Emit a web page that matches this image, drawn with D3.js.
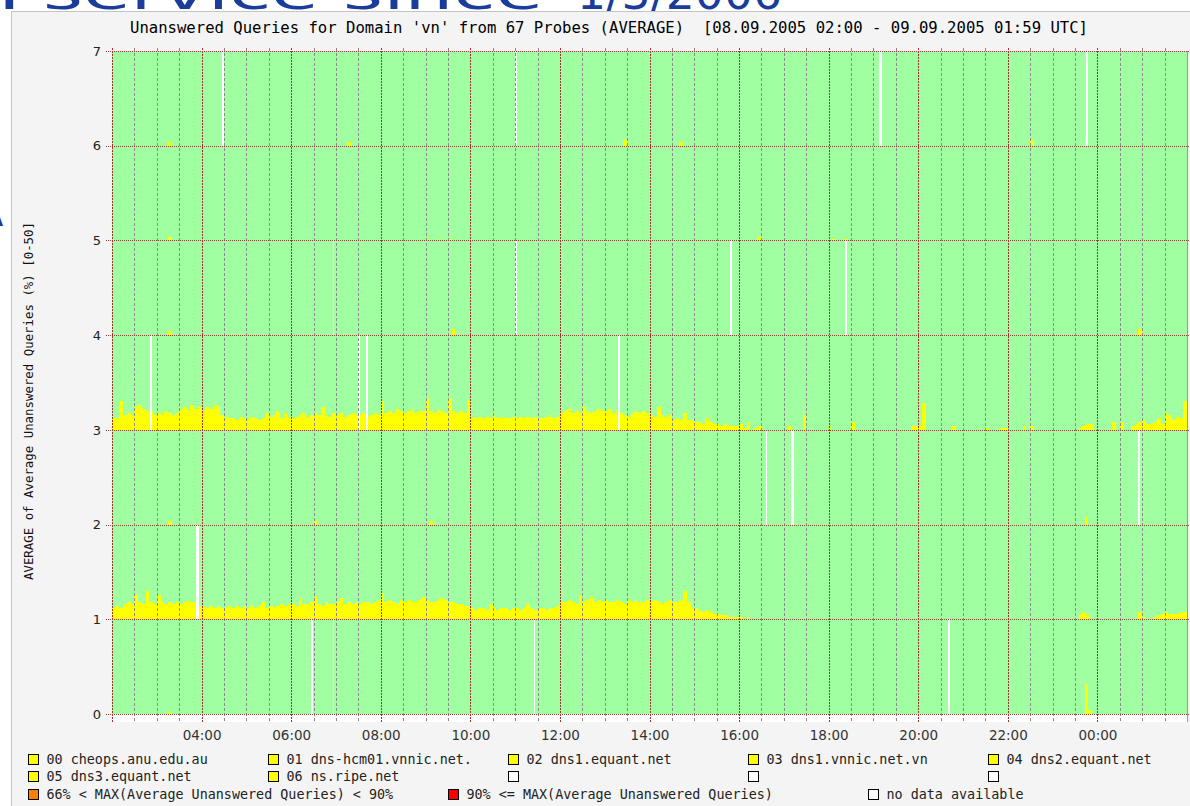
<!DOCTYPE html>
<html>
<head>
<meta charset="utf-8">
<script src="https://cdn.jsdelivr.net/npm/d3@7"></script>
<style>
  body { margin: 0; background: #fff; }
  svg { display: block; }
</style>
</head>
<body>
<script>
// probes, one band per probe (band height = 0..50 % unanswered)
const probes = ["00 cheops.anu.edu.au", "01 dns-hcm01.vnnic.net.", "02 dns1.equant.net",
                "03 dns1.vnnic.net.vn", "04 dns2.equant.net", "05 dns3.equant.net", "06 ns.ripe.net"];
const yTicks = [0, 1, 2, 3, 4, 5, 6, 7];
const xTicks = ["04:00", "06:00", "08:00", "10:00", "12:00", "14:00", "16:00", "18:00", "20:00", "22:00", "00:00"];

// % unanswered, 5 minute bins from 08.09.2005 02:00 UTC (one line = one hour)
const hcm01Pct = [
  6,7,6,8,9,8,13,9,8,15,9,8,
  13,9,8,9,8,9,8,9,10,9,9,7,
  7,6,7,6,7,6,6,7,6,7,6,7,
  6,7,6,7,9,6,7,6,7,8,7,8,
  8,7,11,8,8,9,12,8,7,9,8,8,
  9,11,8,9,8,9,8,9,9,8,9,10,
  14,9,10,9,8,10,9,10,9,9,10,12,
  10,9,9,10,11,10,9,9,8,8,7,7,
  6,5,6,6,5,8,6,5,6,6,5,6,
  6,5,6,8,6,5,6,6,5,6,6,7,
  9,9,10,9,8,13,9,10,12,9,10,9,
  10,9,9,10,9,8,10,9,10,9,9,10,
  9,10,9,8,9,10,9,9,10,15,9,6,
  6,5,4,5,4,3,3,2,2,1,1,1,
  1,0,1,0,0,0,0,0,0,0,0,0,
  0,0,0,0,0,0,0,0,0,0,0,0,
  0,0,0,0,0,0,0,0,0,0,0,0,
  0,0,0,0,0,0,0,0,0,0,0,0,
  0,0,0,0,0,0,0,0,0,0,0,0,
  0,0,0,0,0,0,0,0,0,0,0,0,
  0,0,0,0,0,0,0,0,0,0,0,0,
  0,0,0,0,0,0,0,3,4,2,0,0,
  0,0,0,0,0,0,0,0,0,0,0,4,
  1,0,0,1,2,3,4,3,3,3,4,4
];
const vnnicPct = [
  6,6,15,8,9,8,12,13,11,10,10,8,
  9,8,10,9,8,9,11,12,10,13,11,12,
  10,12,11,13,12,8,7,6,6,5,7,6,
  5,7,6,5,6,9,7,8,10,6,9,7,
  6,7,8,9,7,8,9,8,12,8,7,9,
  8,9,7,8,9,8,8,9,7,8,9,8,
  15,9,10,9,11,10,9,10,11,9,10,10,
  17,10,9,11,10,9,17,10,9,10,9,16,
  7,6,7,6,7,6,8,6,7,6,6,7,
  6,7,6,7,6,7,6,6,7,8,6,7,
  9,10,11,9,10,9,12,10,9,10,11,10,
  10,11,9,10,9,8,7,9,10,9,10,9,
  8,7,12,8,7,8,5,6,5,9,5,5,
  4,4,3,6,4,3,3,2,3,2,2,2,
  3,1,4,0,1,2,0,0,0,0,0,0,
  0,2,0,0,0,8,0,0,0,0,0,0,
  2,0,0,0,0,0,4,0,0,0,0,0,
  0,0,0,0,0,0,0,0,0,0,2,2,
  2,14,0,0,0,0,0,0,0,2,0,0,
  0,0,0,0,0,0,1,0,0,0,1,1,
  0,0,0,0,2,0,2,0,0,0,0,0,
  0,0,0,0,0,0,0,1,2,3,3,0,
  0,0,0,0,4,0,4,0,0,2,3,4,
  5,3,3,4,6,3,9,8,5,7,6,15
];
// isolated readings of the other probes: [probe, time, %]
const spikes = [
  [6, "03:15", 2], [6, "07:15", 2], [6, "13:25", 3], [6, "14:40", 2], [6, "22:30", 3], [6, "23:43", 4],
  [5, "03:15", 2], [5, "09:00", 1], [5, "09:15", 1], [5, "09:30", 1], [5, "16:25", 2], [5, "18:05", 1], [5, "18:20", 1],
  [4, "03:15", 2], [4, "09:35", 3], [4, "00:55", 3],
  [2, "03:15", 2], [2, "06:30", 2], [2, "09:05", 2], [2, "23:43", 4],
  [0, "03:15", 1], [0, "23:43", 16], [0, "23:48", 2]
];
// no data: [probe, start, minutes]
const noData = [
  [6, "04:28", 2], [6, "11:00", 3], [6, "19:08", 3], [6, "23:45", 3],
  [4, "06:56", 2], [4, "11:00", 3], [4, "15:48", 3], [4, "18:22", 3],
  [3, "02:51", 3], [3, "07:30", 2], [3, "07:40", 3], [3, "13:18", 3],
  [2, "16:36", 2], [2, "17:09", 4], [2, "00:54", 3],
  [1, "03:53", 3],
  [0, "06:27", 2], [0, "06:56", 2], [0, "11:25", 2], [0, "20:40", 3]
];
const extraLegend = [
  ["66% < MAX(Average Unanswered Queries) < 90%", "#ff8000"],
  ["90% <= MAX(Average Unanswered Queries)", "#ff0000"],
  ["no data available", "#ffffff"]
];

const width = 1190, height = 806;
const t0 = Date.UTC(2005, 8, 8, 2, 0), t1 = Date.UTC(2005, 8, 9, 2, 0);
const binMin = 5, MIN = 60000;

function at(hhmm) {
  const [h, m] = hhmm.split(":").map(Number);
  let mins = h * 60 + m - 120;
  if (mins < 0) mins += 1440;
  return new Date(t0 + mins * MIN);
}

const x = d3.scaleUtc().domain([new Date(t0), new Date(t1)]).range([112, 1187]);
const y = d3.scaleLinear().domain([0, 7]).range([714, 51]);
const band = d3.scaleLinear().domain([0, 50]).range([0, 1]);

const svg = d3.select("body").append("svg")
    .attr("width", width)
    .attr("height", height);

// slide text behind the chart
svg.append("text")
    .attr("x", -2).attr("y", 9)
    .attr("textLength", 545).attr("lengthAdjust", "spacingAndGlyphs")
    .style("font", "46px 'DejaVu Sans'").attr("fill", "#1a3d9c")
    .text("Pservice since");
svg.append("text")
    .attr("x", 577).attr("y", 9)
    .attr("textLength", 205).attr("lengthAdjust", "spacingAndGlyphs")
    .style("font", "46px 'DejaVu Sans'").attr("fill", "#1a3d9c")
    .text("1/3/2006");
svg.append("text")
    .attr("x", -24).attr("y", 226)
    .style("font", "40px 'DejaVu Sans'").attr("fill", "#1a3d9c")
    .text("A");

svg.append("rect")
    .attr("x", 11.5).attr("y", 11.5)
    .attr("width", width).attr("height", height)
    .attr("fill", "#f4f4f4").attr("stroke", "#c4c4c4");

svg.append("text")
    .attr("x", 609).attr("y", 33)
    .attr("text-anchor", "middle")
    .attr("textLength", 958).attr("lengthAdjust", "spacingAndGlyphs")
    .style("font", "15.5px 'DejaVu Sans Mono'").style("white-space", "pre").attr("fill", "#000")
    .text("Unanswered Queries for Domain 'vn' from 67 Probes (AVERAGE)  [08.09.2005 02:00 - 09.09.2005 01:59 UTC]");

const plot = svg.append("g").attr("shape-rendering", "crispEdges");

plot.append("rect")
    .attr("x", x(new Date(t0))).attr("y", y(0))
    .attr("width", x(new Date(t1)) - x(new Date(t0))).attr("height", 8)
    .attr("fill", "#fff");

plot.append("rect")
    .attr("x", x(new Date(t0))).attr("y", y(7))
    .attr("width", x(new Date(t1)) - x(new Date(t0))).attr("height", y(0) - y(7))
    .attr("fill", "#a0ffa0");

const bars = [];
hcm01Pct.forEach((v, i) => { if (v > 0) bars.push({ row: 1, t: new Date(t0 + i * binMin * MIN), v }); });
vnnicPct.forEach((v, i) => { if (v > 0) bars.push({ row: 3, t: new Date(t0 + i * binMin * MIN), v }); });
spikes.forEach(([row, hhmm, v]) => bars.push({ row, t: at(hhmm), v }));

plot.selectAll("rect.bar")
    .data(bars)
    .enter().append("rect")
    .attr("class", "bar")
    .attr("x", d => x(d.t))
    .attr("width", d => x(new Date(+d.t + binMin * MIN)) - x(d.t))
    .attr("y", d => y(d.row + band(d.v)))
    .attr("height", d => y(d.row) - y(d.row + band(d.v)))
    .attr("fill", "#ffff00");

plot.selectAll("rect.gap")
    .data(noData)
    .enter().append("rect")
    .attr("class", "gap")
    .attr("x", d => x(at(d[1])))
    .attr("width", d => Math.max(1, x(new Date(+at(d[1]) + d[2] * MIN)) - x(at(d[1]))))
    .attr("y", d => y(d[0] + 1))
    .attr("height", d => y(d[0]) - y(d[0] + 1))
    .attr("fill", "#fff");

// grid: red every 2 hours, grey every half hour
const halfHours = d3.utcMinute.every(30).range(new Date(t0), new Date(t1));
const isMajor = d => d.getUTCMinutes() === 0 && d.getUTCHours() % 2 === 0;
plot.selectAll("line.vgrid")
    .data(halfHours)
    .enter().append("line")
    .attr("class", "vgrid")
    .attr("x1", d => Math.round(x(d)) + 0.5).attr("x2", d => Math.round(x(d)) + 0.5)
    .attr("y1", y(7) - 3).attr("y2", y(0) + 8)
    .attr("stroke", d => isMajor(d) ? "#a83030" : "#8a8a8a")
    .attr("stroke-dasharray", d => isMajor(d) ? "2,1" : "3,2");

plot.selectAll("line.hgrid")
    .data(yTicks)
    .enter().append("line")
    .attr("class", "hgrid")
    .attr("x1", 106).attr("x2", 1190)
    .attr("y1", d => Math.round(y(d)) + 0.5).attr("y2", d => Math.round(y(d)) + 0.5)
    .attr("stroke", "#a83c3c")
    .attr("stroke-dasharray", "1,1");

plot.append("line")
    .attr("x1", 1187.5).attr("x2", 1187.5)
    .attr("y1", y(7)).attr("y2", y(0) + 8)
    .attr("stroke", "#9a9a9a");

// axes
const yAxis = svg.append("g")
    .attr("transform", "translate(112,0)")
    .call(d3.axisLeft(y).tickValues(yTicks).tickFormat(d3.format("d")).tickSize(0).tickPadding(11));
yAxis.select(".domain").remove();
yAxis.selectAll("text").style("font", "13px 'DejaVu Sans'").attr("fill", "#222");

const xAxis = svg.append("g")
    .attr("transform", "translate(0," + (y(0) + 8) + ")")
    .call(d3.axisBottom(x).tickValues(xTicks.map(at)).tickFormat(d3.utcFormat("%H:%M")).tickSize(0).tickPadding(8));
xAxis.select(".domain").remove();
xAxis.selectAll("text").style("font", "13.5px 'DejaVu Sans'").attr("fill", "#333");

svg.append("text")
    .attr("transform", "translate(33,401) rotate(-90)")
    .attr("text-anchor", "middle")
    .attr("textLength", 358).attr("lengthAdjust", "spacingAndGlyphs")
    .style("font", "12.4px 'DejaVu Sans Mono'").attr("fill", "#111")
    .text("AVERAGE of Average Unanswered Queries (%) [0-50]");

// legend
const legendItems = [];
for (let i = 0; i < 10; i++) {
  legendItems.push({
    x: 28 + (i % 5) * 240, y: 754 + Math.floor(i / 5) * 17.3,
    label: probes[i] || "", color: probes[i] ? "#ffff00" : "#ffffff"
  });
}
extraLegend.forEach((d, i) => legendItems.push({ x: 28 + i * 420, y: 754 + 2 * 17.3, label: d[0], color: d[1] }));

const legend = svg.selectAll("g.legend")
    .data(legendItems)
    .enter().append("g")
    .attr("class", "legend")
    .attr("transform", d => "translate(" + d.x + "," + Math.round(d.y) + ")");

legend.append("rect")
    .attr("x", 0.5).attr("y", 0.5)
    .attr("width", 10).attr("height", 10)
    .attr("fill", d => d.color)
    .attr("stroke", "#000")
    .attr("shape-rendering", "crispEdges");

legend.append("text")
    .attr("x", 18.5).attr("y", 9.5)
    .style("font", "13.4px 'DejaVu Sans Mono'").attr("fill", "#222")
    .text(d => d.label);
</script>
</body>
</html>
